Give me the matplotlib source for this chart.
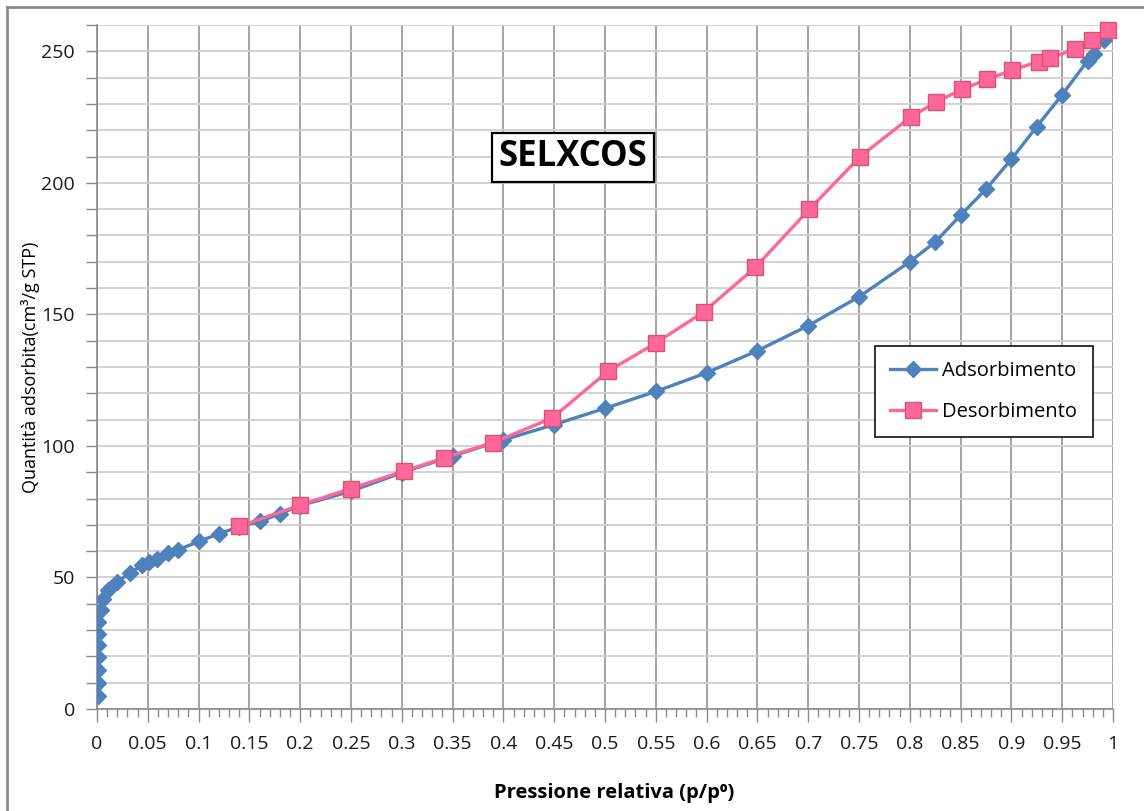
import matplotlib
matplotlib.use("Agg")
import matplotlib.pyplot as plt
from matplotlib.ticker import MultipleLocator, FixedLocator
from matplotlib.lines import Line2D

plt.rcParams['font.family'] = ['Open Sans', 'DejaVu Sans']

# ---- data ----
ads_p = [0.0013, 0.0013, 0.0013, 0.0013, 0.0013, 0.0013, 0.0013, 0.0036, 0.0062, 0.011,
         0.02, 0.032, 0.044, 0.051, 0.059, 0.07, 0.08, 0.1, 0.12, 0.14, 0.16, 0.18,
         0.2, 0.25, 0.3, 0.35, 0.4, 0.45, 0.5, 0.55, 0.6, 0.65, 0.7, 0.75, 0.8,
         0.825, 0.85, 0.875, 0.9, 0.925, 0.95, 0.975, 0.981, 0.991]
ads_v = [4.9, 9.8, 14.8, 19.7, 24.4, 28.5, 33.2, 37.7, 41.9, 45.2,
         48.3, 51.6, 54.6, 56.0, 57.1, 59.2, 60.5, 63.7, 66.6, 69.3, 71.3, 74.2,
         77.3, 82.8, 89.8, 96.2, 102.3, 108.1, 114.3, 120.7, 127.8, 136.2, 145.7, 156.7, 170.0,
         177.5, 187.7, 197.6, 209.0, 221.4, 233.5, 246.4, 248.9, 254.3]

des_p = [0.14, 0.2, 0.25, 0.302, 0.342, 0.39, 0.448, 0.503, 0.55, 0.597, 0.648, 0.701,
         0.751, 0.801, 0.826, 0.851, 0.876, 0.901, 0.927, 0.938, 0.963, 0.979, 0.995]
des_v = [69.4, 77.5, 83.8, 90.4, 95.5, 101.3, 110.6, 128.4, 139.1, 150.9, 167.9, 189.9,
         209.9, 225.1, 230.7, 235.5, 239.3, 242.9, 246.1, 247.3, 251.0, 254.3, 258.1]

x_ticks = [0, 0.05, 0.1, 0.15, 0.2, 0.25, 0.3, 0.35, 0.4, 0.45, 0.5, 0.55, 0.6,
           0.65, 0.7, 0.75, 0.8, 0.85, 0.9, 0.95, 1]
x_tick_labels = ['0', '0.05', '0.1', '0.15', '0.2', '0.25', '0.3', '0.35', '0.4', '0.45',
                 '0.5', '0.55', '0.6', '0.65', '0.7', '0.75', '0.8', '0.85', '0.9', '0.95', '1']
y_ticks = [0, 50, 100, 150, 200, 250]

title_text = 'SELXCOS'
series_names = ['Adsorbimento', 'Desorbimento']
xlabel = 'Pressione relativa (p/p\u2070)'
ylabel = 'Quantità adsorbita(cm\u00b3/g STP)'

BLUE = '#4F81BD'
PINK = '#FF6699'
PINK_EDGE = '#D9546E'

fig = plt.figure(figsize=(11.44, 8.11), dpi=100)
ax = fig.add_axes([97 / 1144, 1 - 709 / 811, (1113 - 97) / 1144, (709 - 25) / 811])

# outer chart frame
fig.add_artist(Line2D([7 / 1144, 7 / 1144], [0, 1 - 7 / 811], transform=fig.transFigure,
                      color='#8c8c8c', lw=2))
fig.add_artist(Line2D([7 / 1144, 1], [1 - 7 / 811, 1 - 7 / 811], transform=fig.transFigure,
                      color='#8c8c8c', lw=2))

ax.set_xlim(0, 1)
ax.set_ylim(0, 260)

ax.xaxis.set_major_locator(FixedLocator(x_ticks))
ax.set_xticklabels(x_tick_labels)
ax.xaxis.set_minor_locator(MultipleLocator(0.01))
ax.yaxis.set_major_locator(FixedLocator(y_ticks))
ax.yaxis.set_minor_locator(MultipleLocator(10))

ax.grid(True, which='major', axis='x', color='#8a8a8a', lw=1.1)
ax.grid(True, which='both', axis='y', color='#cfcfcf', lw=1.3)
ax.set_axisbelow(True)

for s in ['top', 'right']:
    ax.spines[s].set_visible(False)
for s in ['left', 'bottom']:
    ax.spines[s].set_color('#8a8a8a')
    ax.spines[s].set_linewidth(1.2)

ax.tick_params(axis='x', which='major', length=9, width=1, color='#8a8a8a',
               labelsize=14, pad=10, labelcolor='#1a1a1a')
ax.tick_params(axis='x', which='minor', length=6, width=1, color='#8a8a8a')
ax.tick_params(axis='y', which='both', length=8, width=1, color='#8a8a8a',
               labelsize=14, pad=8, labelcolor='#1a1a1a')

ax.plot(ads_p, ads_v, color=BLUE, lw=2.4, marker='D', ms=8.5, mfc=BLUE, mec=BLUE,
        label=series_names[0], zorder=3)
ax.plot(des_p, des_v, color=PINK, lw=2.4, marker='s', ms=12, mfc=PINK, mec=PINK_EDGE,
        mew=1.0, label=series_names[1], zorder=4, clip_on=False)

ax.set_xlabel(xlabel, fontsize=14.5, fontweight='bold')
ax.xaxis.set_label_coords((614 - 97) / 1016, -(783 - 709) / 684)
ax.set_ylabel(ylabel, fontsize=13)
ax.yaxis.set_label_coords(-(97 - 40) / 1016, 0.5)

# title box
ax.text((573 - 97) / 1016, (709 - 157.5) / 684, title_text, transform=ax.transAxes,
        fontsize=25, fontweight='bold', ha='center', va='center', zorder=6,
        bbox=dict(boxstyle='square,pad=0.2', fc='white', ec='black', lw=1.6))

leg = ax.legend(loc='upper left', bbox_to_anchor=((875 - 97) / 1016, (709 - 346) / 684),
                fontsize=14.5, frameon=True, fancybox=False, edgecolor='#222222',
                framealpha=1, borderpad=0.75, labelspacing=1.05, handlelength=2.3,
                handletextpad=0.3, borderaxespad=0)
leg.get_frame().set_linewidth(1.3)
leg.set_zorder(7)

fig.savefig('out.png', dpi=100)
